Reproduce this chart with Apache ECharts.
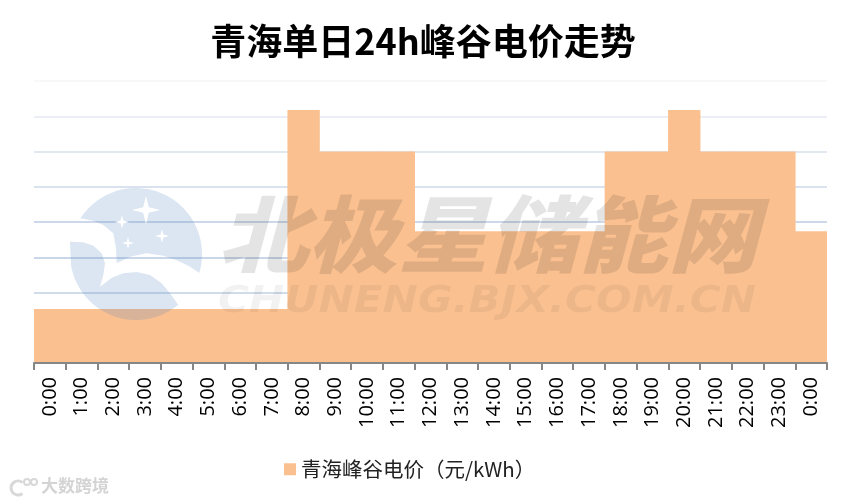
<!DOCTYPE html>
<html><head><meta charset="utf-8">
<style>html,body{margin:0;padding:0;background:#fff}#c{width:846px;height:504px}</style>
<script src="https://cdn.jsdelivr.net/npm/echarts@6/dist/echarts.min.js"></script>
</head><body><div id="c"></div>
<script>
var categories = ['0:00','1:00','2:00','3:00','4:00','5:00','6:00','7:00','8:00','9:00','10:00','11:00','12:00','13:00','14:00','15:00','16:00','17:00','18:00','19:00','20:00','21:00','22:00','23:00','0:00'];
var prices = [0.153,0.153,0.153,0.153,0.153,0.153,0.153,0.153,0.718,0.6,0.6,0.6,0.374,0.374,0.374,0.374,0.374,0.374,0.6,0.6,0.718,0.6,0.6,0.6,0.374];
var seriesName = '青海峰谷电价（元/kWh）';
var titleText = '青海单日24h峰谷电价走势';
var gridColors = ['#ffffff','#c5d3e6','#c0d0e5','#b8cae2','#bccde3','#ccd8e8','#d8e1ed','#e4e9f1','#f6f6f6'];
var FONT = '"Noto Sans CJK SC","Open Sans",sans-serif';
var LOGO = {cx:136,cy:254,r:66};
function arc(a0,a1){var p=[];var n=48;for(var i=0;i<=n;i++){var a=(a0+(a1-a0)*i/n)*Math.PI/180;p.push([LOGO.cx+LOGO.r*Math.cos(a),LOGO.cy+LOGO.r*Math.sin(a)]);}return p;}
function zm(list){return list.map(function(q){return [50+q[0]/3,175+q[1]/3];});}
var upperLogo = arc(-147,17).concat(zm([[450,295],[415,272],[380,256],[340,242],[290,235],[240,245],[200,265],[198,220],[190,175],[160,150],[130,137],[90,130]]));
var lowerLogo = zm([[60,200],[100,202],[130,212],[155,235],[165,265],[160,300],[150,335],[185,308],[220,295],[260,291],[300,300],[335,325],[360,355],[385,390]]).concat(arc(50.5,169.5));
function starPts(x,y,R){var r=R*0.2;return [[x,y-R],[x+r,y-r],[x+R,y],[x+r,y+r],[x,y+R],[x-r,y+r],[x-R,y],[x-r,y-r]];}
var stars = [[146,210,14],[122,222,7],[162,236,7],[128,243,6]];
var chart = echarts.init(document.getElementById('c'), null, {renderer:'canvas'});
var graphics = [
  {type:'polygon',silent:true,z:100,shape:{points:upperLogo},style:{fill:'rgba(80,130,190,0.2)'}},
  {type:'polygon',silent:true,z:100,shape:{points:lowerLogo},style:{fill:'rgba(80,130,190,0.2)'}},
  {type:'text',silent:true,z:100,x:218,y:192,scaleY:0.93,style:{text:'北极星储能网',x:0,y:0,fontFamily:FONT,fontSize:90,fontWeight:900,fontStyle:'italic',fill:'rgba(0,0,0,0.105)'}},
  {type:'text',silent:true,z:100,x:218,y:284,scaleX:1.14,style:{text:'CHUNENG.BJX.COM.CN',x:0,y:0,fontFamily:'"DejaVu Sans",sans-serif',fontSize:37,fontWeight:'bold',fontStyle:'italic',fill:'rgba(0,0,0,0.05)'}},
  {type:'text',silent:true,z:100,style:{text:'大数跨境',x:41,y:477,fontFamily:FONT,fontSize:17,fontWeight:'bold',fill:'#d4d4d4'}},
  {type:'arc',silent:true,z:100,shape:{cx:18,cy:488,r:7,startAngle:0.9,endAngle:5.4},style:{stroke:'#d8d8d8',lineWidth:3,fill:'none'}},
  {type:'ring',silent:true,z:100,shape:{cx:27,cy:482,r:4,r0:2},style:{fill:'#d8d8d8'}},
  {type:'ring',silent:true,z:100,shape:{cx:34,cy:482,r:4,r0:2},style:{fill:'#d8d8d8'}}
];
stars.forEach(function(s){graphics.push({type:'polygon',silent:true,z:101,shape:{points:starPts(s[0],s[1],s[2])},style:{fill:'#fff'}});});
chart.setOption({
  animation:false,
  backgroundColor:'#fff',
  title:{text:titleText,left:'center',top:18,textStyle:{fontFamily:FONT,fontSize:36,fontWeight:'bold',color:'#000'}},
  legend:{data:[{name:seriesName,icon:'rect'}],top:454,left:279,itemWidth:12,itemHeight:12,itemGap:6,
    textStyle:{fontFamily:FONT,fontSize:20.5,color:'#222'}},
  grid:{left:34,right:19,top:81,bottom:141},
  xAxis:{type:'category',data:categories,boundaryGap:true,z:10,
    axisLine:{show:true,lineStyle:{color:'#868686',width:2}},
    axisTick:{show:true,alignWithLabel:false,length:7,lineStyle:{color:'#868686',width:2}},
    axisLabel:{show:true,rotate:90,interval:0,align:'right',verticalAlign:'middle',fontFamily:'"Open Sans",sans-serif',fontSize:20,color:'#000',margin:14}},
  yAxis:{type:'value',min:0,max:0.8,interval:0.1,
    axisLine:{show:false},axisTick:{show:false},axisLabel:{show:false},
    splitLine:{show:true,lineStyle:{color:gridColors,width:1.5}}},
  series:[{name:seriesName,type:'bar',data:prices,barWidth:'102%',barCategoryGap:0,itemStyle:{color:'#FAC090'}}],
  graphic:graphics
});
</script></body></html>
